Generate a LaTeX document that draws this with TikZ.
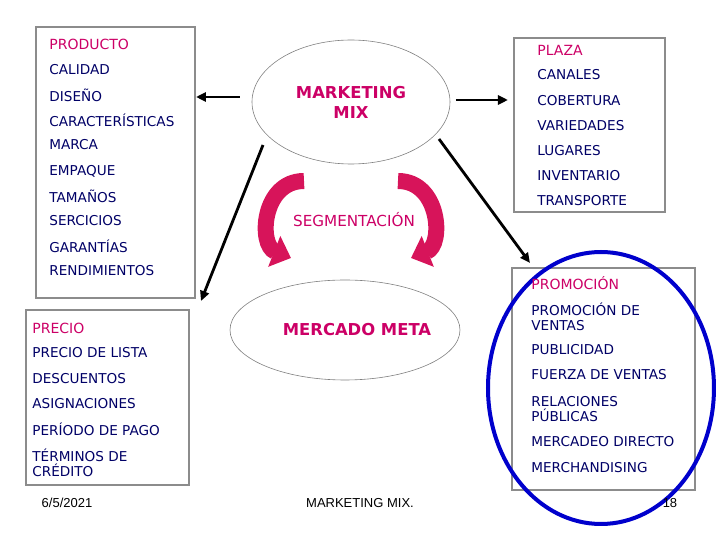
\documentclass[tikz,border=0pt]{standalone}
\usepackage{fontspec}
\setmainfont{DejaVu Sans}
\newfontfamily\arialf{Liberation Sans}
\usetikzlibrary{arrows.meta}
\definecolor{ttl}{RGB}{204,0,102}
\definecolor{itm}{RGB}{0,0,102}
\definecolor{bx}{RGB}{140,140,140}
\definecolor{curv}{RGB}{215,20,90}
\begin{document}
\begin{tikzpicture}[x=0.5pt,y=-0.5pt,
  box/.style={draw=bx,line width=1.4pt},
  itemtxt/.style={anchor=west,inner sep=0,text=itm,font=\fontsize{6.8}{7.6}\selectfont,align=left},
  titletxt/.style={anchor=west,inner sep=0,text=ttl,font=\fontsize{7}{8}\selectfont},
  oval/.style={draw=gray,line width=0.3pt},
  conn/.style={line width=1.4pt,-{Triangle[length=5pt,width=4.5pt]}},
  foot/.style={inner sep=0,font=\arialf\fontsize{6.5}{7.5}\selectfont},
  curvearrow/.style={line width=8pt,curv,-{Triangle[length=9pt,width=16pt]}}]
\useasboundingbox (0,0) rectangle (720,540);
% boxes
\draw[box] (36,27) rectangle (195,298);
\draw[box] (514,38) rectangle (665,212);
\draw[box] (26,310) rectangle (189,485);
\draw[box] (512,268) rectangle (695,490);
\draw[blue!80!black,line width=2pt] (601,388) ellipse [x radius=113,y radius=136];
% ellipses
\draw[oval] (351,102) ellipse [x radius=99,y radius=62];
\node[font=\bfseries\fontsize{8.2}{10}\selectfont,text=ttl,align=center] (mm) at (351,102) {MARKETING\\MIX};
\draw[oval] (345,330) ellipse [x radius=115,y radius=50];
\node[font=\bfseries\fontsize{8.2}{10}\selectfont,text=ttl] (meta) at (357,330) {MERCADO META};
\node[font=\fontsize{7.6}{9}\selectfont,text=ttl] (seg) at (354,220) {SEGMENTACIÓN};
% product
\node[titletxt] (p0) at (49,44) {PRODUCTO};
\foreach \t/\y in {CALIDAD/70,DISEÑO/95,CARACTERÍSTICAS/120,MARCA/145,EMPAQUE/171,TAMAÑOS/196,SERCICIOS/221,GARANTÍAS/246,RENDIMIENTOS/271}
  \node[itemtxt] at (49,\y) {\t};
\node[titletxt] (pl0) at (537,50) {PLAZA};
\foreach \t/\y in {CANALES/75,COBERTURA/101,VARIEDADES/126,LUGARES/151,INVENTARIO/176,TRANSPORTE/201}
  \node[itemtxt] at (537,\y) {\t};
\node[titletxt] (pr0) at (32,328) {PRECIO};
\foreach \t/\y in {PRECIO DE LISTA/353,DESCUENTOS/379,ASIGNACIONES/404,PERÍODO DE PAGO/429}
  \node[itemtxt] at (32,\y) {\t};
\node[itemtxt] at (32,463) {TÉRMINOS DE\\CRÉDITO};
\node[titletxt] (pm0) at (531,283) {PROMOCIÓN};
\node[itemtxt] at (531,317) {PROMOCIÓN DE\\VENTAS};
\node[itemtxt] at (531,350) {PUBLICIDAD};
\node[itemtxt] at (531,375) {FUERZA DE VENTAS};
\node[itemtxt] at (531,409) {RELACIONES\\PÚBLICAS};
\node[itemtxt] at (531,442) {MERCADEO DIRECTO};
\node[itemtxt] at (531,468) {MERCHANDISING};
% connectors
\coordinate (a1) at (240,97); \coordinate (b1) at (196,97);
\coordinate (a2) at (456,100); \coordinate (b2) at (508,100);
\coordinate (a3) at (263,145); \coordinate (b3) at (201,301);
\coordinate (a4) at (439,139); \coordinate (b4) at (530,263);
\draw[conn] (a1) -- (b1);
\draw[conn] (a2) -- (b2);
\draw[conn] (a3) -- (b3);
\draw[conn] (a4) -- (b4);
% curved arrows
\coordinate (l1) at (304,181); \coordinate (l2) at (291,258);
\coordinate (r1) at (398,181); \coordinate (r2) at (411,258);
\draw[curvearrow] (l1) .. controls (262,181) and (258,245) .. (l2);
\draw[curvearrow] (r1) .. controls (440,181) and (444,245) .. (r2);
% footer
\node[foot] (d) at (67,503) {6/5/2021};
\node[foot] (f) at (360,503) {MARKETING MIX.};
\node[foot] (n) at (670,503) {18};
\end{tikzpicture}
\end{document}
